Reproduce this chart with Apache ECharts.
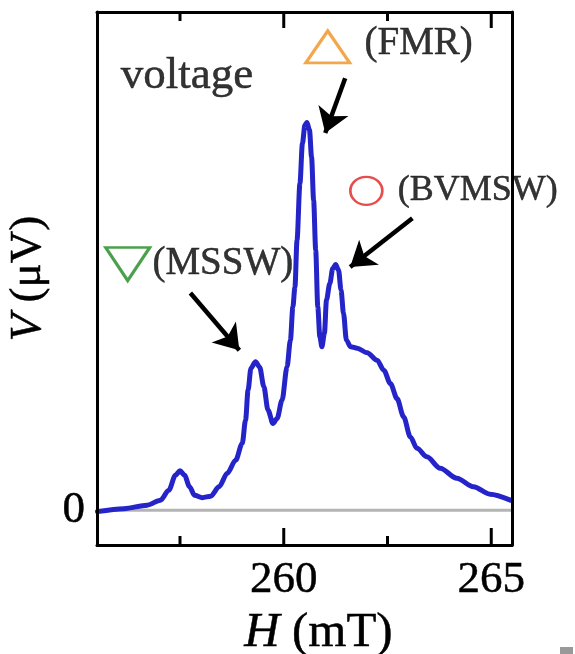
<!DOCTYPE html>
<html>
<head>
<meta charset="utf-8">
<script src="https://cdn.jsdelivr.net/npm/echarts@6/dist/echarts.min.js"></script>
<style>
html,body{margin:0;padding:0;background:#fff;}
#chart{width:575px;height:654px;}
</style>
</head>
<body>
<div id="chart"></div>
<script>
// ---- data ----
var fieldH = [255.51,256.15,256.71,257.03,257.23,257.39,257.50,257.61,257.73,257.85,258.04,258.24,258.44,258.64,258.84,259.00,259.08,259.14,259.21,259.32,259.42,259.52,259.62,259.74,259.84,259.96,260.08,260.16,260.22,260.27,260.32,260.39,260.45,260.51,260.56,260.62,260.67,260.72,260.77,260.82,260.87,260.92,260.98,261.03,261.11,261.18,261.25,261.32,261.38,261.44,261.51,261.61,261.77,262.01,262.25,262.41,262.57,262.73,262.89,263.05,263.21,263.45,263.77,264.17,264.57,264.97,265.46];
var voltage = [-0.03,0.03,0.10,0.20,0.40,0.70,0.79,0.70,0.47,0.30,0.25,0.28,0.47,0.74,1.00,1.34,1.81,2.41,2.85,2.98,2.87,2.48,2.01,1.74,1.84,2.21,2.88,3.41,4.08,4.48,5.42,6.56,7.36,7.73,7.78,7.63,7.09,6.22,5.22,4.08,3.48,3.28,3.55,4.22,4.55,4.85,4.93,4.82,4.42,3.95,3.41,3.28,3.25,3.16,3.01,2.81,2.54,2.24,1.87,1.47,1.24,1.07,0.84,0.64,0.47,0.32,0.20];
var xMajorTicks = [260, 265];
var xMinorTicks = [257.5, 262.5];
var yTickLabels = [0];
var xRange = [255.5, 265.5];
var yRange = [-0.7, 10];

var markerNames = ['(FMR)', '(MSSW)', '(BVMSW)'];
var markerPos = [[261.06, 9.30], [256.24, 4.94], [261.99, 6.41]];
var arrowFMR = [[261.48, 8.67], [261.00, 7.57]];
var arrowMSSW = [[257.75, 4.36], [258.93, 3.21]];
var arrowBVMSW = [[263.10, 5.86], [261.60, 4.88]];
var voltageLabelPos = [256.07, 8.71];

var FONT = '"Liberation Serif", "Times New Roman", serif';
var TXT = {fontFamily: FONT, color: '#000', textBorderColor: '#000', textBorderWidth: 0.5};

var GRID = {left: 97, top: 12, width: 415, height: 533};
var curve = fieldH.map(function (h, i) { return [h, voltage[i]]; });

var chart = echarts.init(document.getElementById('chart'), null, {renderer: 'canvas'});

function txt(o) { return Object.assign({}, TXT, o); }

// tick specs: values, at top?, length in px
var tickSpec = [
  [xMajorTicks, false, 17], [xMinorTicks, false, 9],
  [xMajorTicks, true, 16], [xMinorTicks, true, 9]
];

var series = [
  {
    name: 'zero', type: 'line', z: 1, xAxisIndex: 0, yAxisIndex: 0,
    data: [[xRange[0], 0], [xRange[1], 0]],
    showSymbol: false, symbol: 'none', silent: true,
    lineStyle: {color: '#b4b4b4', width: 3}
  },
  {
    name: 'voltage', type: 'line', z: 3, xAxisIndex: 0, yAxisIndex: 0,
    data: curve, smooth: 0.3, smoothMonotone: 'x', showSymbol: false, symbol: 'none',
    lineStyle: {color: '#2424c8', width: 5, cap: 'round', join: 'round'}
  },
  {
    name: 'voltageLabel', type: 'scatter', z: 4, xAxisIndex: 0, yAxisIndex: 0,
    data: [voltageLabelPos], symbolSize: 0, silent: true,
    label: txt({show: true, position: 'right', distance: 0, formatter: 'voltage', fontSize: 45})
  },
  {
    name: 'FMR', type: 'scatter', z: 4, xAxisIndex: 0, yAxisIndex: 0,
    data: [markerPos[0]], symbol: 'triangle', symbolSize: [44, 32],
    itemStyle: {color: 'rgba(0,0,0,0)', borderColor: '#f0901e', borderWidth: 3},
    label: txt({show: true, position: 'right', distance: 13, offset: [0, -3], formatter: markerNames[0], fontSize: 39})
  },
  {
    name: 'MSSW', type: 'scatter', z: 4, xAxisIndex: 0, yAxisIndex: 0,
    data: [markerPos[1]], symbol: 'triangle', symbolRotate: 180, symbolSize: [44, 33],
    itemStyle: {color: 'rgba(0,0,0,0)', borderColor: '#1e8a1e', borderWidth: 3},
    label: txt({show: true, position: 'right', distance: 1, formatter: markerNames[1], fontSize: 39})
  },
  {
    name: 'BVMSW', type: 'scatter', z: 4, xAxisIndex: 0, yAxisIndex: 0,
    data: [markerPos[2]], symbol: 'circle', symbolSize: [32, 28],
    itemStyle: {color: 'rgba(0,0,0,0)', borderColor: '#e02020', borderWidth: 2.5},
    label: txt({show: true, position: 'right', distance: 14, formatter: markerNames[2], fontSize: 36})
  },
  {
    name: 'arrows', type: 'lines', coordinateSystem: 'cartesian2d', z: 4, xAxisIndex: 0, yAxisIndex: 0,
    symbol: ['none', 'arrow'], symbolSize: 24,
    lineStyle: {color: '#000', width: 4.5, opacity: 1},
    data: [{coords: arrowFMR}, {coords: arrowMSSW}, {coords: arrowBVMSW}]
  }
];

var option = {
  backgroundColor: '#fff',
  animation: false,
  grid: Object.assign({containLabel: false, outerBoundsMode: 'none'}, GRID),
  xAxis: [
    {
      type: 'value', position: 'bottom', min: xRange[0], max: xRange[1], z: 10,
      splitLine: {show: false},
      axisLine: {show: true, onZero: false, lineStyle: {color: '#000', width: 3}},
      axisTick: {show: false},
      axisLabel: txt({show: true, customValues: xMajorTicks, margin: 13, fontSize: 45}),
      name: '{i|H} (mT)', nameLocation: 'middle', nameGap: 62,
      nameTextStyle: txt({fontSize: 49, padding: [0, 0, 0, 28],
        rich: {i: txt({fontStyle: 'italic', fontSize: 49})}})
    },
    {
      type: 'value', position: 'top', min: xRange[0], max: xRange[1], z: 10,
      splitLine: {show: false},
      axisLine: {show: true, onZero: false, lineStyle: {color: '#000', width: 3}},
      axisTick: {show: false},
      axisLabel: {show: false}
    }
  ],
  yAxis: [
    {
      type: 'value', position: 'left', min: yRange[0], max: yRange[1], z: 10,
      splitLine: {show: false},
      axisLine: {show: true, onZero: false, lineStyle: {color: '#000', width: 3}},
      axisTick: {show: false},
      axisLabel: txt({show: true, customValues: yTickLabels, margin: 12, fontSize: 45}),
      name: '{i|V} (μV)', nameLocation: 'middle', nameRotate: 90, nameGap: 40,
      nameTextStyle: txt({fontSize: 45, rich: {i: txt({fontStyle: 'italic', fontSize: 45})}})
    },
    {
      type: 'value', position: 'right', min: yRange[0], max: yRange[1], z: 10,
      splitLine: {show: false},
      axisLine: {show: true, onZero: false, lineStyle: {color: '#000', width: 3}},
      axisTick: {show: false},
      axisLabel: {show: false}
    }
  ],
  series: series
};
chart.setOption(option);

// tick marks: positions converted through the axis scales, drawn as graphic lines
var graphics = [
  {type: 'rect', id: 'corner', right: 2, bottom: 0, shape: {width: 13, height: 7}, style: {fill: '#999'}}
];
tickSpec.forEach(function (t, gi) {
  t[0].forEach(function (v, i) {
    var base = chart.convertToPixel({gridIndex: 0}, [v, t[1] ? yRange[1] : yRange[0]]);
    if (!base || isNaN(base[0])) {
      base = chart.convertToPixel({xAxisIndex: 0, yAxisIndex: 0}, [v, t[1] ? yRange[1] : yRange[0]]);
    }
    var dir = t[1] ? 1 : -1;
    graphics.push({
      type: 'rect', id: 'tick' + gi + '_' + i, z: 100, silent: true,
      shape: {x: base[0] - 1.5, y: dir > 0 ? base[1] : base[1] - t[2], width: 3, height: t[2]},
      style: {fill: '#000'}
    });
  });
});
chart.setOption({graphic: graphics});
</script>
</body>
</html>
